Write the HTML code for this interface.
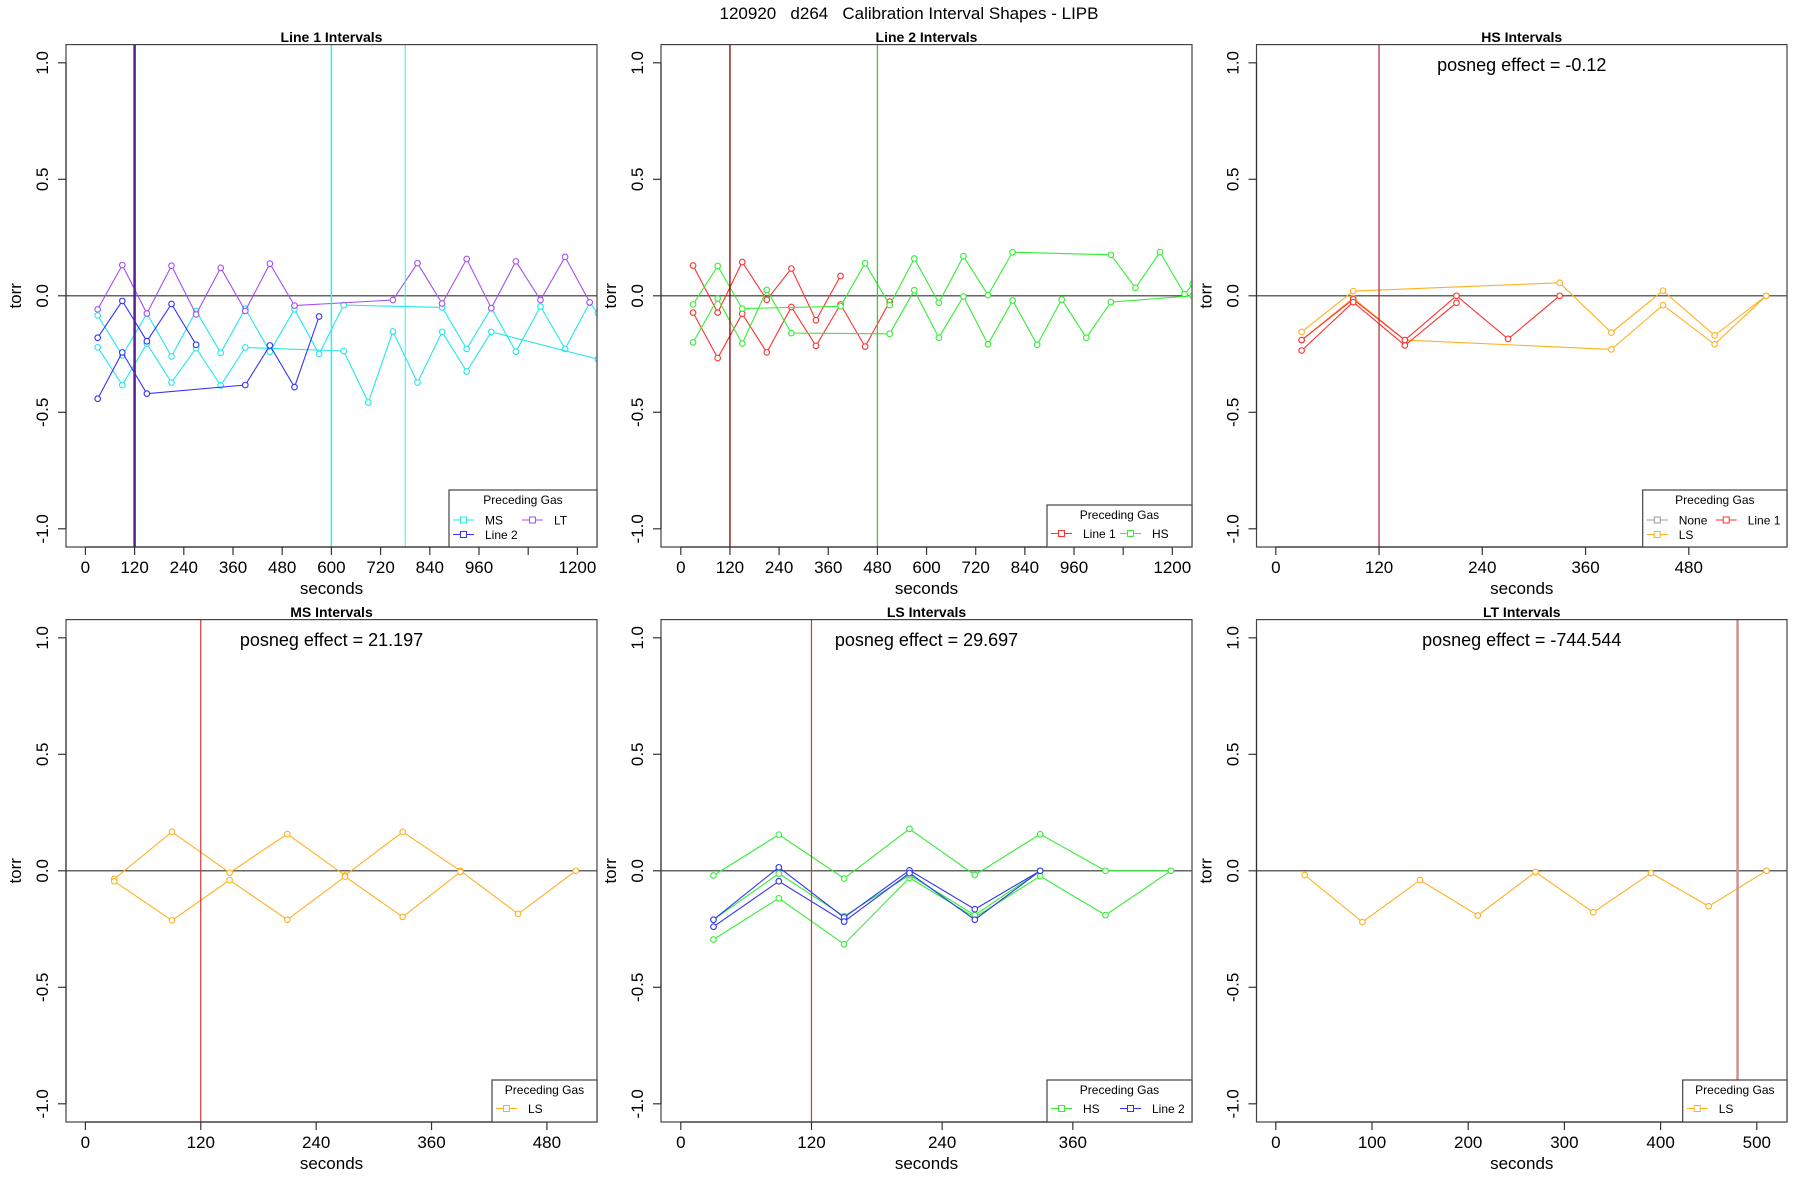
<!DOCTYPE html>
<html><head><meta charset="utf-8"><title>Calibration Interval Shapes</title>
<style>html,body{margin:0;padding:0;background:#fff;}svg{display:block;font-family:"Liberation Sans",sans-serif;}</style>
</head><body>
<svg id="chart" width="1800" height="1200" viewBox="0 0 1800 1200" xmlns="http://www.w3.org/2000/svg">
<text x="909" y="19" font-size="17" text-anchor="middle" style="white-space:pre" xml:space="preserve">120920   d264   Calibration Interval Shapes - LIPB</text>
</svg>
<script>
// ---------- data ----------
const yTicks = [1.0, 0.5, 0.0, -0.5, -1.0];
const yTickLabels = ["1.0", "0.5", "0.0", "-0.5", "-1.0"];

// Panel 1: Line 1 Intervals
const p1_ticks = [0,120,240,360,480,600,720,840,960,1080,1200];
const p1_tickLabels = ["0","120","240","360","480","600","720","840","960","","1200"];
const p1_lt_t = [30,90,150,210,270,330,390,450,510,750,810,870,930,990,1050,1110,1170,1230];
const p1_lt_v = [-0.058,0.132,-0.076,0.129,-0.08,0.12,-0.065,0.138,-0.042,-0.018,0.14,-0.033,0.158,-0.053,0.148,-0.018,0.167,-0.028];
const p1_ms1_t = [30,90,150,210,270,330,390,450,510,570,630,870,930,990,1050,1110,1170,1230,1250];
const p1_ms1_v = [-0.084,-0.256,-0.076,-0.26,-0.065,-0.245,-0.055,-0.24,-0.058,-0.25,-0.04,-0.05,-0.228,-0.053,-0.24,-0.046,-0.228,-0.03,-0.075];
const p1_ms2_t = [30,90,150,210,270,330,390,630,690,750,810,870,930,990,1250];
const p1_ms2_v = [-0.221,-0.383,-0.205,-0.372,-0.225,-0.385,-0.222,-0.237,-0.458,-0.153,-0.372,-0.155,-0.325,-0.155,-0.272];
const p1_l2a_t = [30,90,150,210,270];
const p1_l2a_v = [-0.18,-0.022,-0.195,-0.035,-0.21];
const p1_l2b_t = [30,90,150,390,450,510,570];
const p1_l2b_v = [-0.442,-0.243,-0.42,-0.383,-0.213,-0.392,-0.089];

// Panel 2: Line 2 Intervals
const p2_ticks = p1_ticks;
const p2_tickLabels = p1_tickLabels;
const p2_r1_t = [30,90,150,210,270,330,390];
const p2_r1_v = [0.13,-0.072,0.145,-0.017,0.117,-0.105,0.085];
const p2_r2_t = [30,90,150,210,270,330,390,450,510];
const p2_r2_v = [-0.072,-0.267,-0.077,-0.243,-0.048,-0.215,-0.037,-0.218,-0.025];
const p2_g1_t = [30,90,150,390,450,510,570,630,690,750,810,1050,1110,1170,1230,1250];
const p2_g1_v = [-0.037,0.128,-0.055,-0.045,0.14,-0.04,0.16,-0.03,0.17,0.003,0.187,0.176,0.034,0.187,0.007,0.05];
const p2_g2_t = [30,90,150,210,270,510,570,630,690,750,810,870,930,990,1050,1250];
const p2_g2_v = [-0.2,-0.012,-0.205,0.025,-0.16,-0.163,0.024,-0.18,-0.003,-0.208,-0.02,-0.21,-0.016,-0.18,-0.027,0.0];

// Panel 3: HS Intervals
const p3_ticks = [0,120,240,360,480];
const p3_tickLabels = ["0","120","240","360","480"];
const p3_r1_t = [30,90,150,210,270,330];
const p3_r1_v = [-0.19,-0.015,-0.19,0.0,-0.185,0.0];
const p3_r2_t = [30,90,150,210];
const p3_r2_v = [-0.235,-0.027,-0.213,-0.03];
const p3_o1_t = [30,90,330,390,450,510,570];
const p3_o1_v = [-0.155,0.02,0.056,-0.158,0.022,-0.17,0.0];
const p3_o2_t = [30,90,150,390,450,510,570];
const p3_o2_v = [-0.19,-0.01,-0.19,-0.23,-0.04,-0.208,0.0];

// Panel 4: MS Intervals
const p4_ticks = [0,120,240,360,480];
const p4_tickLabels = ["0","120","240","360","480"];
const p4_o1_t = [30,90,150,210,270,330,390,450,510];
const p4_o1_v = [-0.035,0.167,-0.008,0.158,-0.02,0.167,0.0,-0.185,0.0];
const p4_o2_t = [30,90,150,210,270,330,390];
const p4_o2_v = [-0.045,-0.213,-0.04,-0.21,-0.025,-0.198,-0.005];

// Panel 5: LS Intervals
const p5_ticks = [0,120,240,360];
const p5_tickLabels = ["0","120","240","360"];
const p5_g1_t = [30,90,150,210,270,330,390,450];
const p5_g1_v = [-0.02,0.155,-0.033,0.18,-0.018,0.157,0.0,0.0];
const p5_g2_t = [30,90,150,210,270,330,390,450];
const p5_g2_v = [-0.295,-0.118,-0.315,-0.03,-0.2,-0.023,-0.19,0.0];
const p5_g3_t = [30,90,150,210,270,330];
const p5_g3_v = [-0.21,-0.012,-0.195,-0.018,-0.19,0.0];
const p5_b1_t = [30,90,150,210,270,330];
const p5_b1_v = [-0.21,0.015,-0.2,0.002,-0.165,0.0];
const p5_b2_t = [30,90,150,210,270,330];
const p5_b2_v = [-0.24,-0.045,-0.218,-0.01,-0.21,0.0];

// Panel 6: LT Intervals
const p6_ticks = [0,100,200,300,400,500];
const p6_tickLabels = ["0","100","200","300","400","500"];
const p6_o1_t = [30,90,150,210,270,330,390,450,510];
const p6_o1_v = [-0.018,-0.22,-0.04,-0.192,-0.005,-0.178,-0.01,-0.152,0.0];

// ---------- drawing ----------
const NS = "http://www.w3.org/2000/svg";
const svg = document.getElementById("chart");
const CY = "#22e8e8", BL = "#3333ff", PU = "#a84ef0", RD = "#ff3030", GR = "#33ee33", OR = "#ffb020", GY = "#999999";

function mk(tag, attrs, parent) {
  const e = document.createElementNS(NS, tag);
  for (const k in attrs) e.setAttribute(k, attrs[k]);
  (parent || svg).appendChild(e);
  return e;
}

const panels = [
  {name:"line-1", title:"Line 1 Intervals", bx:66, bw:531, row:0, x0:85.4, r:0.41, ticks:p1_ticks, labels:p1_tickLabels, posneg:null,
   vlines:[[120,"#5a1f8f",2.5],[600,"#33eeee",1.5],[780,"#33eeee",1]],
   series:[[p1_ms1_t,p1_ms1_v,CY],[p1_ms2_t,p1_ms2_v,CY],[p1_l2a_t,p1_l2a_v,BL],[p1_l2b_t,p1_l2b_v,BL],[p1_lt_t,p1_lt_v,PU]],
   legend:{x:449,w:148,rows:2,entries:[["MS",CY,0,0],["LT",PU,1,0],["Line 2",BL,0,1]]}},
  {name:"line-2", title:"Line 2 Intervals", bx:661, bw:531, row:0, x0:680.8, r:0.4096, ticks:p2_ticks, labels:p2_tickLabels, posneg:null,
   vlines:[[120,"#8b0000",1.3],[480,"#33cc33",1.3]],
   series:[[p2_r1_t,p2_r1_v,RD],[p2_r2_t,p2_r2_v,RD],[p2_g1_t,p2_g1_v,GR],[p2_g2_t,p2_g2_v,GR]],
   legend:{x:1047,w:145,rows:1,entries:[["Line 1",RD,0,0],["HS",GR,1,0]]}},
  {name:"hs", title:"HS Intervals", bx:1256.5, bw:530.5, row:0, x0:1275.8, r:0.8604, ticks:p3_ticks, labels:p3_tickLabels, posneg:"posneg effect = -0.12",
   vlines:[[120,"#a52a2a",1.2]],
   series:[[p3_o1_t,p3_o1_v,OR],[p3_o2_t,p3_o2_v,OR],[p3_r1_t,p3_r1_v,RD],[p3_r2_t,p3_r2_v,RD]],
   legend:{x:1642.7,w:144.3,rows:2,entries:[["None",GY,0,0],["Line 1",RD,1,0],["LS",OR,0,1]]}},
  {name:"ms", title:"MS Intervals", bx:66, bw:531, row:1, x0:85.4, r:0.9615, ticks:p4_ticks, labels:p4_tickLabels, posneg:"posneg effect = 21.197",
   vlines:[[120,"#cd3333",1.2]],
   series:[[p4_o1_t,p4_o1_v,OR],[p4_o2_t,p4_o2_v,OR]],
   legend:{x:492,w:105,rows:1,entries:[["LS",OR,0,0]]}},
  {name:"ls", title:"LS Intervals", bx:661, bw:531, row:1, x0:680.8, r:1.089, ticks:p5_ticks, labels:p5_tickLabels, posneg:"posneg effect = 29.697",
   vlines:[[120,"#dd3333",1.2]],
   series:[[p5_g1_t,p5_g1_v,GR],[p5_g2_t,p5_g2_v,GR],[p5_g3_t,p5_g3_v,GR],[p5_b1_t,p5_b1_v,BL],[p5_b2_t,p5_b2_v,BL]],
   legend:{x:1047,w:145,rows:1,entries:[["HS",GR,0,0],["Line 2",BL,1,0]]}},
  {name:"lt", title:"LT Intervals", bx:1256.5, bw:530.5, row:1, x0:1275.8, r:0.962, ticks:p6_ticks, labels:p6_tickLabels, posneg:"posneg effect = -744.544",
   vlines:[[480,"#d09090",2.5]],
   series:[[p6_o1_t,p6_o1_v,OR]],
   legend:{x:1682.7,w:104.3,rows:1,entries:[["LS",OR,0,0]]}}
];

panels.forEach(function(p) {
  const off = p.row * 575;
  const top = 44.6 + off, bot = 547 + off, y0 = 295.8 + off, k = 233;
  const X = function(t){ return p.x0 + t * p.r; };
  const Y = function(v){ return y0 - v * k; };
  const g = mk("g", {});
  
  
  const cx = p.bx + p.bw / 2;
  const tt = mk("text", {x:cx, y:42 + off, "font-size":14, "font-weight":"bold", "text-anchor":"middle"}, g);
  tt.textContent = p.title;
  
  
  // clip
  const cid = "clip-" + p.name;
  const cp = mk("clipPath", {id:cid}, g);
  mk("rect", {x:p.bx, y:top, width:p.bw, height:bot - top}, cp);
  const plot = mk("g", {"clip-path":"url(#" + cid + ")"}, g);
  
  
  // zero line
  const zl = mk("line", {x1:p.bx, x2:p.bx + p.bw, y1:Y(0), y2:Y(0), stroke:"#333", "stroke-width":1.2}, plot);
  
  
  // series
  p.series.forEach(function(s) {
    const pts = s[0].map(function(t, i){ return X(t).toFixed(1) + "," + Y(s[1][i]).toFixed(1); }).join(" ");
    const pl = mk("polyline", {points:pts, fill:"none", stroke:s[2], "stroke-width":1.1}, plot);
    
    
    s[0].forEach(function(t, i) {
      const c = mk("circle", {cx:X(t), cy:Y(s[1][i]), r:2.8, fill:"#fff", stroke:s[2], "stroke-width":1.1}, plot);
      
      
    });
  });
  // vertical lines
  p.vlines.forEach(function(v) {
    const vl = mk("line", {x1:X(v[0]), x2:X(v[0]), y1:top, y2:bot, stroke:v[1], "stroke-width":v[2]}, plot);
    
    
  });
  // box
  const box = mk("rect", {x:p.bx, y:top, width:p.bw, height:bot - top, fill:"none", stroke:"#444", "stroke-width":1.2}, g);
  
  
  // x axis
  mk("line", {x1:X(p.ticks[0]), x2:X(p.ticks[p.ticks.length - 1]), y1:bot, y2:bot, stroke:"#333", "stroke-width":1.2}, g);
  p.ticks.forEach(function(t, i) {
    mk("line", {x1:X(t), x2:X(t), y1:bot, y2:bot + 8, stroke:"#333", "stroke-width":1.2}, g);
    if (p.labels[i] !== "") {
      const lb = mk("text", {x:X(t), y:573 + off, "font-size":17, "text-anchor":"middle"}, g);
      lb.textContent = p.labels[i];
      
      
    }
  });
  const xt = mk("text", {x:cx, y:594 + off, "font-size":17, "text-anchor":"middle"}, g);
  xt.textContent = "seconds";
  
  
  // y axis
  mk("line", {x1:p.bx, x2:p.bx, y1:Y(1), y2:Y(-1), stroke:"#333", "stroke-width":1.2}, g);
  yTicks.forEach(function(v, i) {
    mk("line", {x1:p.bx - 8, x2:p.bx, y1:Y(v), y2:Y(v), stroke:"#333", "stroke-width":1.2}, g);
    const lx = p.bx - 18;
    const lb = mk("text", {x:lx, y:Y(v), "font-size":17, "text-anchor":"middle", transform:"rotate(-90 " + lx + " " + Y(v) + ")"}, g);
    lb.textContent = yTickLabels[i];
    
    
  });
  const tx = p.bx - 45, ty = Y(0);
  const yt = mk("text", {x:tx, y:ty, "font-size":17, "text-anchor":"middle", transform:"rotate(-90 " + tx + " " + ty + ")"}, g);
  yt.textContent = "torr";
  
  
  // posneg
  if (p.posneg) {
    const pn = mk("text", {x:cx, y:71 + off, "font-size":18, "text-anchor":"middle"}, g);
    pn.textContent = p.posneg;
    
    
  }
  // legend
  const L = p.legend;
  const lh = L.rows === 2 ? 57 : 42;
  const ly = bot - lh;
  const lg = mk("g", {}, g);
  
  
  mk("rect", {x:L.x, y:ly, width:L.w, height:lh, fill:"#fff", stroke:"#444", "stroke-width":1.2}, lg);
  const ltt = mk("text", {x:L.x + L.w / 2, y:ly + 14, "font-size":12, "text-anchor":"middle"}, lg);
  ltt.textContent = "Preceding Gas";
  
  
  L.entries.forEach(function(e) {
    const ex = L.x + e[2] * 69, ey = ly + (L.rows === 2 ? 30 : 28.5) + e[3] * 14.5;
    const eg = mk("g", {}, lg);
    
    
    mk("line", {x1:ex + 4, x2:ex + 25, y1:ey, y2:ey, stroke:e[1], "stroke-width":1.1}, eg);
    mk("rect", {x:ex + 11.5, y:ey - 3, width:6, height:6, fill:"#fff", stroke:e[1], "stroke-width":1}, eg);
    const et = mk("text", {x:ex + 36, y:ey + 4.5, "font-size":12}, eg);
    et.textContent = e[0];
  });
});
</script>
</body></html>
